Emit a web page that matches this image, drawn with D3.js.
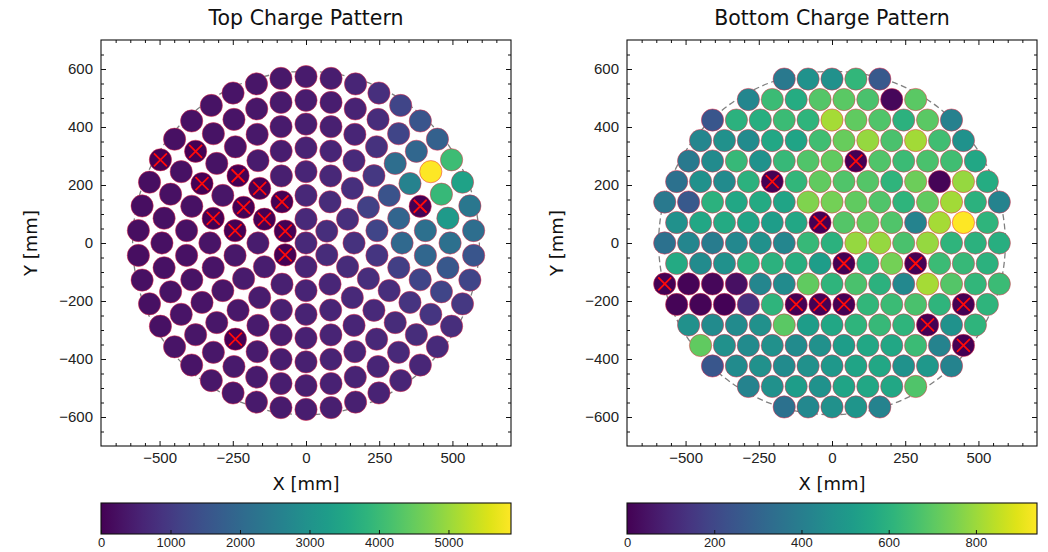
<!DOCTYPE html>
<meta charset="utf-8">
<style>
body { margin: 0; background: #fff; }
svg { display: block; font-family: "DejaVu Sans", sans-serif; }
.frame { fill: none; stroke: #111; stroke-width: 1.1px; }
.tick line { stroke: #111; stroke-width: 1px; }
.tick text { fill: #222; }
</style>
<svg width="1048" height="552"></svg>
<script src="https://cdnjs.cloudflare.com/ajax/libs/d3/7.8.5/d3.min.js"></script>
<script>
// top array: concentric rings, values from 90 deg going counter-clockwise
var topRing0 = [680];
var topRing1 = [680, 0, 0, 620, 720, 780];
var topRing2 = [650, 0, 0, 450, 480, 530, 590, 640, 720, 850, 800, 720];
var topRing3 = [600, 500, 0, 0, 0, 380, 420, 460, 520, 570,
                620, 680, 780, 900, 1200, 1150, 800, 650];
var topRing4 = [560, 480, 420, 0, 330, 0, 300, 310, 340, 380,
                430, 480, 540, 580, 620, 680, 780, 1100, 2000, 1900,
                1500, 950, 700, 600];
var topRing5 = [500, 420, 370, 320, 290, 0, 270, 260, 270, 290,
                320, 360, 0, 430, 480, 520, 560, 600, 660, 720,
                880, 1200, 1950, 2150, 0, 2600, 2100, 850, 600, 520];
var topRing6 = [450, 400, 360, 320, 290, 0, 260, 250, 240, 250,
                260, 280, 300, 330, 360, 400, 430, 470, 500, 540,
                580, 620, 680, 740, 900, 1200, 1600, 2150, 3200, 3950,
                5900, 1950, 1200, 750, 560, 480];
var topRing7 = [420, 380, 330, 300, 280, 260, 240, 0, 230, 210,
                230, 220, 250, 240, 270, 300, 320, 350, 380, 400,
                430, 470, 500, 530, 560, 600, 640, 700, 780, 950,
                1200, 1550, 2100, 2350, 3400, 4050, 1800, 1550, 1200, 800,
                600, 480];
var topRings = [topRing0, topRing1, topRing2, topRing3, topRing4, topRing5, topRing6, topRing7];
// dead channels [ring, index]
var topDead = [[1,1],[1,2],[2,1],[2,2],[3,2],[3,3],[3,4],[4,3],[4,5],[5,5],[5,12],[5,24],[6,5],[7,7]];

// bottom array: hexagonal rows, top row first, left to right
var botRow8  = [380, 480, 470, 620, 260];
var botRow7  = [430, 640, 580, 690, 700, 670, 15, 700];
var botRow6  = [250, 600, 590, 640, 610, 815, 710, 680, 600, 700, 410];
var botRow5  = [430, 470, 450, 560, 550, 650, 720, 790, 670, 810, 650, 480];
var botRow4  = [380, 450, 630, 480, 630, 680, 710, 0, 680, 640, 670, 650, 560];
var botRow3  = [350, 470, 450, 600, 0, 620, 710, 680, 690, 610, 730, 10, 790, 580];
var botRow2  = [380, 260, 600, 560, 570, 550, 760, 740, 710, 680, 610, 710, 810, 600, 420];
var botRow1  = [470, 560, 570, 550, 520, 560, 0, 690, 710, 680, 420, 815, 940, 610];
var botRow0  = [350, 430, 390, 440, 470, 430, 630, 600, 790, 790, 670, 790, 610, 600, 590];
var botRowM1 = [570, 450, 470, 600, 600, 590, 520, 0, 610, 740, 0, 640, 630, 600];
var botRowM2 = [0, 10, 15, 40, 430, 450, 710, 610, 670, 600, 440, 815, 690, 620, 640];
var botRowM3 = [10, 10, 5, 130, 610, 0, 0, 0, 620, 640, 670, 610, 0, 610];
var botRowM4 = [470, 450, 450, 470, 700, 520, 560, 610, 630, 610, 0, 480, 610];
var botRowM5 = [710, 470, 450, 470, 450, 470, 520, 560, 560, 640, 420, 0];
var botRowM6 = [250, 450, 470, 450, 470, 500, 550, 560, 480, 500, 420];
var botRowM7 = [420, 470, 520, 480, 550, 560, 560, 680];
var botRowM8 = [350, 440, 470, 490, 420];
var botRows = [botRow8, botRow7, botRow6, botRow5, botRow4, botRow3, botRow2, botRow1, botRow0,
               botRowM1, botRowM2, botRowM3, botRowM4, botRowM5, botRowM6, botRowM7, botRowM8];
// dead channels [row, index]
var botDead = [[4,7],[5,4],[7,6],[9,7],[9,10],[10,0],[11,5],[11,6],[11,7],[11,12],[12,10],[13,11]];

var xTicks = [-500, -250, 0, 250, 500];
var yTicks = [-600, -400, -200, 0, 200, 400, 600];
var topBarTicks = [0, 1000, 2000, 3000, 4000, 5000];
var botBarTicks = [0, 200, 400, 600, 800];

// geometry (mm)
var ringPitch = 82, hexPitch = 81.6, pmtR = 38, tpcR = 592;

function isDead(list, a, b) {
  return list.some(function(d) { return d[0] == a && d[1] == b; });
}

var topPmts = [];
topRings.forEach(function(vals, k) {
  vals.forEach(function(v, j) {
    var a = (90 + 360 * j / vals.length) * Math.PI / 180;
    topPmts.push({x: k * ringPitch * Math.cos(a), y: k * ringPitch * Math.sin(a), v: v, dead: isDead(topDead, k, j)});
  });
});
var botPmts = [];
botRows.forEach(function(vals, r) {
  var yy = (8 - r) * hexPitch * Math.sqrt(3) / 2;
  vals.forEach(function(v, i) {
    botPmts.push({x: (i - (vals.length - 1) / 2) * hexPitch, y: yy, v: v, dead: isDead(botDead, r, i)});
  });
});

var svg = d3.select("svg");

var panels = [
  {title: "Top Charge Pattern", left: 101, pmts: topPmts, vmax: d3.max(topRings.flat()), barTicks: topBarTicks, ylab: 31},
  {title: "Bottom Charge Pattern", left: 627, pmts: botPmts, vmax: d3.max(botRows.flat()), barTicks: botBarTicks, ylab: 557}
];

panels.forEach(function(p, pi) {
  var top = 40, w = 410, h = 406;
  var x = d3.scaleLinear().domain([-700, 700]).range([p.left, p.left + w]);
  var y = d3.scaleLinear().domain([-700, 700]).range([top + h, top]);
  var col = d3.scaleSequential(d3.interpolateViridis).domain([0, p.vmax]);
  var g = svg.append("g");

  g.append("ellipse")
    .attr("cx", x(0)).attr("cy", y(0))
    .attr("rx", x(tpcR) - x(0)).attr("ry", y(0) - y(tpcR))
    .attr("fill", "none").attr("stroke", "#808080")
    .attr("stroke-width", 1.3).attr("stroke-dasharray", "6,3.5");

  var rpx = x(pmtR) - x(0);
  g.selectAll("circle.pmt").data(p.pmts).enter().append("circle")
    .attr("class", "pmt")
    .attr("cx", function(d) { return x(d.x); })
    .attr("cy", function(d) { return y(d.y); })
    .attr("r", rpx)
    .attr("fill", function(d) { return col(d.v); })
    .attr("stroke", "rgba(235,40,70,0.5)")
    .attr("stroke-width", 1);

  var s = 6.5;
  g.selectAll("path.dead").data(p.pmts.filter(function(d) { return d.dead; })).enter().append("path")
    .attr("class", "dead")
    .attr("d", function(d) {
      var cx = x(d.x), cy = y(d.y);
      return "M" + (cx - s) + "," + (cy - s) + "L" + (cx + s) + "," + (cy + s) +
             "M" + (cx - s) + "," + (cy + s) + "L" + (cx + s) + "," + (cy - s);
    })
    .attr("stroke", "#ff0a0a").attr("stroke-width", 1.8).attr("fill", "none");

  // axes with inward ticks on all sides
  var minorY = d3.range(-650, 651, 50).filter(function(v) { return yTicks.indexOf(v) < 0; });
  var minorX = d3.range(-650, 651, 50).filter(function(v) { return xTicks.indexOf(v) < 0; });

  g.append("g").attr("transform", "translate(0," + (top + h) + ")")
    .call(d3.axisBottom(x).tickValues(xTicks).tickSize(-5).tickPadding(6))
    .call(function(a) { a.select(".domain").remove(); a.selectAll("text").style("font-size", "15px"); });
  g.append("g").attr("transform", "translate(0," + (top + h) + ")")
    .call(d3.axisBottom(x).tickValues(minorX).tickSize(-3).tickFormat(""))
    .call(function(a) { a.select(".domain").remove(); });
  g.append("g").attr("transform", "translate(0," + top + ")")
    .call(d3.axisTop(x).tickValues(xTicks).tickSize(-5).tickFormat(""))
    .call(function(a) { a.select(".domain").remove(); });
  g.append("g").attr("transform", "translate(0," + top + ")")
    .call(d3.axisTop(x).tickValues(minorX).tickSize(-3).tickFormat(""))
    .call(function(a) { a.select(".domain").remove(); });

  g.append("g").attr("transform", "translate(" + p.left + ",0)")
    .call(d3.axisLeft(y).tickValues(yTicks).tickSize(-5).tickPadding(8))
    .call(function(a) { a.select(".domain").remove(); a.selectAll("text").style("font-size", "15px"); });
  g.append("g").attr("transform", "translate(" + p.left + ",0)")
    .call(d3.axisLeft(y).tickValues(minorY).tickSize(-3).tickFormat(""))
    .call(function(a) { a.select(".domain").remove(); });
  g.append("g").attr("transform", "translate(" + (p.left + w) + ",0)")
    .call(d3.axisRight(y).tickValues(yTicks).tickSize(-5).tickFormat(""))
    .call(function(a) { a.select(".domain").remove(); });
  g.append("g").attr("transform", "translate(" + (p.left + w) + ",0)")
    .call(d3.axisRight(y).tickValues(minorY).tickSize(-3).tickFormat(""))
    .call(function(a) { a.select(".domain").remove(); });

  g.append("rect").attr("class", "frame")
    .attr("x", p.left).attr("y", top).attr("width", w).attr("height", h);

  g.append("text").attr("x", p.left + w / 2).attr("y", 25)
    .attr("text-anchor", "middle").style("font-size", "20.5px").attr("fill", "#111")
    .text(p.title);
  g.append("text").attr("x", p.left + w / 2).attr("y", 490)
    .attr("text-anchor", "middle").style("font-size", "18px").attr("fill", "#111")
    .text("X [mm]");
  g.append("text").attr("transform", "translate(" + p.ylab + "," + (top + h / 2) + ") rotate(-90)")
    .attr("text-anchor", "middle").attr("dy", "0.35em").style("font-size", "18px").attr("fill", "#111")
    .text("Y [mm]");

  // colorbar
  var gid = "grad" + pi;
  var grad = svg.append("defs").append("linearGradient").attr("id", gid);
  d3.range(0, 1.0001, 0.05).forEach(function(t) {
    grad.append("stop").attr("offset", t).attr("stop-color", d3.interpolateViridis(t));
  });
  var barTop = 503, barH = 31;
  var bx = d3.scaleLinear().domain([0, p.vmax]).range([p.left, p.left + w]);
  g.append("rect").attr("x", p.left).attr("y", barTop).attr("width", w).attr("height", barH)
    .attr("fill", "url(#" + gid + ")");
  g.append("g").attr("transform", "translate(0," + (barTop + barH) + ")")
    .call(d3.axisBottom(bx).tickValues(p.barTicks).tickSize(-4).tickPadding(4).tickFormat(d3.format("d")))
    .call(function(a) { a.select(".domain").remove(); a.selectAll("text").style("font-size", "13px"); });
  g.append("rect").attr("class", "frame").attr("x", p.left).attr("y", barTop).attr("width", w).attr("height", barH);
});
</script>
